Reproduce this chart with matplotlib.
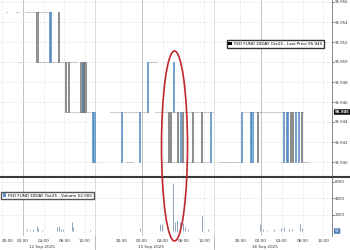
import matplotlib
matplotlib.use("Agg")
import matplotlib.pyplot as plt
import matplotlib.transforms as mtransforms
from matplotlib.patches import Ellipse, Patch
from matplotlib.lines import Line2D

# price levels (FED FUND 30DAY Oct25)
A, B, C, D = 95.955, 95.950, 95.945, 95.940

# candles: time, open, close
candle_times = [
    "09-12 02:44", "09-12 05:05", "09-12 05:20", "09-12 06:58", "09-12 08:15",
    "09-12 08:45", "09-12 11:15", "09-12 11:30", "09-12 11:45", "09-12 12:00",
    "09-12 13:30", "09-12 13:45",
    "09-14 20:06", "09-14 23:34", "09-15 01:07", "09-15 05:10", "09-15 05:30",
    "09-15 06:08", "09-15 06:54", "09-15 07:28", "09-15 07:52", "09-15 09:47",
    "09-15 11:31", "09-15 13:16",
    "09-15 20:14", "09-15 22:00", "09-15 22:15", "09-15 23:19", "09-16 04:19",
    "09-16 04:54", "09-16 05:10", "09-16 05:40", "09-16 06:03", "09-16 06:38",
    "09-16 07:13", "09-16 07:50",
]
candle_open = [
    A, B, B, A, B, B, B, C, B, B, D, D,
    D, D, C, C, C, C, C, D, C, C, C, D,
    D, D, D, C, D, D, D, C, C, D, D, C,
]
candle_close = [
    B, A, A, B, C, C, C, B, C, C, C, C,
    C, C, B, D, D, B, D, C, D, D, D, C,
    C, C, C, D, C, C, C, D, D, C, C, D,
]

# periods where the price stayed flat: start, end, level
flat_start = [
    "09-11 20:50", "09-11 22:40", "09-12 00:20", "09-11 23:20", "09-12 02:44",
    "09-12 08:15", "09-12 13:30", "09-14 15:30", "09-14 17:50", "09-14 21:00",
    "09-15 01:07", "09-15 02:30", "09-15 03:49", "09-15 15:50", "09-15 20:14",
    "09-16 03:50", "09-16 07:50",
]
flat_end = [
    "09-11 21:10", "09-11 23:20", "09-12 05:40", "09-11 23:35", "09-12 10:30",
    "09-12 13:30", "09-12 13:50", "09-14 15:45", "09-15 01:10", "09-14 22:15",
    "09-15 03:00", "09-15 13:40", "09-15 13:20", "09-15 20:14", "09-16 08:20",
    "09-16 04:30", "09-16 09:20",
]
flat_level = [A, A, A, B, B, C, D, D, C, D, B, C, D, D, C, D, D]

# volume bars
vol_times = [
    "09-12 00:48", "09-12 01:23", "09-12 01:58", "09-12 02:44", "09-12 02:55",
    "09-12 03:41", "09-12 06:35", "09-12 06:58", "09-12 07:21", "09-12 07:44",
    "09-12 09:28", "09-12 09:40", "09-12 12:56",
    "09-14 23:34", "09-15 03:26", "09-15 03:49", "09-15 05:56", "09-15 06:19",
    "09-15 06:42", "09-15 07:17", "09-15 07:52", "09-15 08:15", "09-15 08:49",
    "09-15 11:31", "09-15 12:41",
    "09-15 23:53", "09-16 00:28", "09-16 01:14", "09-16 02:35", "09-16 03:56",
    "09-16 04:31", "09-16 05:29", "09-16 06:03", "09-16 07:36", "09-16 07:59",
]
vol_values = [
    300, 200, 250, 700, 400, 200, 600, 700, 350, 300, 1100, 600, 200,
    450, 900, 850, 5850, 1100, 1400, 1200, 1000, 500, 350, 1900, 300,
    850, 300, 200, 250, 450, 500, 350, 300, 950, 400,
]

price_ticks = [95.940, 95.942, 95.944, 95.946, 95.948, 95.950, 95.952, 95.954, 95.956]
vol_ticks = [2000, 4000, 6000]
last_price = 95.945
last_volume = 52

tick_times = [
    "09-11 20:00", "09-12 00:00", "09-12 04:00", "09-12 08:00", "09-12 12:00",
    "09-14 20:00", "09-15 00:00", "09-15 04:00", "09-15 08:00", "09-15 12:00",
    "09-15 20:00", "09-16 00:00", "09-16 04:00", "09-16 08:00", "09-16 12:00",
]
date_labels = ["12 Sep 2025", "15 Sep 2025", "16 Sep 2025"]
date_label_times = ["09-12 03:40", "09-15 01:50", "09-16 00:40"]

session_of_day = {12: 0, 15: 1, 16: 2}


def to_x(ts):
    # trading hours only: each session runs 15:00 -> 14:00 (23h), weekend removed
    day, hm = ts.split()
    d = int(day.split("-")[1])
    h, m = map(int, hm.split(":"))
    hours = h + m / 60
    trade_day = d + 1 if hours >= 15 else d
    if trade_day in (13, 14):
        trade_day = 15
    return 23 * session_of_day[trade_day] + (hours - 15) % 24


W, H = 350, 250
right = 332  # right edge of the plot area in pixels
fig = plt.figure(figsize=(3.5, 2.5), dpi=100)
ax1 = fig.add_axes([0, 1 - 176 / H, right / W, 176 / H])
ax2 = fig.add_axes([0, 1 - 236 / H, right / W, 58 / H])

grid_c = "#d2d2d2"
for ax in (ax1, ax2):
    ax.set_xlim(4.6, 4.6 + right / 5.18)
    for t in tick_times:
        x = to_x(t)
        if t.endswith("00:00"):
            ax.axvline(x, color="#b8b8b8", lw=0.6, zorder=0)
        else:
            ax.axvline(x, color=grid_c, lw=0.5, ls=(0, (1, 1.5)), zorder=0)
    for x in (23, 46):
        ax.axvline(x, color="#d8d8d8", lw=0.6, zorder=0)
    ax.yaxis.tick_right()
    ax.grid(axis="y", color=grid_c, lw=0.5, ls=(0, (1, 1.5)))
    for s in ("top", "left", "bottom"):
        ax.spines[s].set_visible(False)
    ax.spines["right"].set_color("#777777")
    ax.spines["right"].set_linewidth(0.6)
    ax.tick_params(axis="y", length=1.5, width=0.5, pad=0.8, labelsize=2.8,
                   colors="#333333")
    ax.tick_params(axis="x", length=0)

# price panel
ax1.set_ylim(95.9386, 95.9562)
ax1.set_yticks(price_ticks)
ax1.set_yticklabels([f"{v:.3f}" for v in price_ticks])
ax1.set_xticks([])

flat_x0 = [to_x(t) for t in flat_start]
flat_x1 = [to_x(t) for t in flat_end]
ax1.hlines(flat_level, flat_x0, flat_x1, colors="#999999", lw=0.5,
           linestyles=(0, (2, 0.8)), zorder=2)

for t, o, c in zip(candle_times, candle_open, candle_close):
    up = c > o
    ax1.bar(to_x(t), abs(c - o), bottom=min(o, c), width=0.22,
            color="#7fb2e0" if up else "#9a9a9a",
            edgecolor="#3f78b5" if up else "#5e5e5e", lw=0.4, zorder=3)

tr1 = mtransforms.blended_transform_factory(ax1.transAxes, ax1.transData)
ax1.text(1.008, last_price, f"{last_price:.3f}", transform=tr1, fontsize=2.8,
         color="white", va="center", ha="left", fontweight="bold",
         bbox=dict(boxstyle="round,pad=0.2", fc="#111111", ec="none"))

ax1.legend([Patch(facecolor="black")], ["FED FUND 30DAY Oct25 - Last Price 95.945"],
           loc="center", bbox_to_anchor=(275 / W, 1 - 44 / H),
           bbox_transform=fig.transFigure, fontsize=3.0, frameon=True,
           fancybox=False, edgecolor="#333333", framealpha=1, borderpad=0.4,
           handlelength=0.8, handleheight=0.8, handletextpad=0.5,
           borderaxespad=0)

# volume panel
ax2.set_ylim(-550, 6480)
ax2.set_yticks(vol_ticks)
ax2.set_yticklabels([str(v) for v in vol_ticks])
ax2.vlines([to_x(t) for t in vol_times], 0, vol_values, color="#7d98b3", lw=0.6,
           zorder=3)
ax2.set_xticks([to_x(t) for t in tick_times])
ax2.set_xticklabels([t.split()[1] for t in tick_times])
ax2.tick_params(axis="x", labelsize=3.0, pad=2, colors="#333333")
ax2.get_xticklabels()[0].set_horizontalalignment("left")

tr2 = mtransforms.blended_transform_factory(ax2.transData, ax2.transAxes)
for lab, t in zip(date_labels, date_label_times):
    ax2.text(to_x(t), -0.15, lab, transform=tr2, fontsize=3.0, ha="center",
             va="top", color="#333333")

tr2y = mtransforms.blended_transform_factory(ax2.transAxes, ax2.transData)
ax2.text(1.008, last_volume, str(last_volume), transform=tr2y, fontsize=2.8,
         color="white", va="center", ha="left",
         bbox=dict(boxstyle="round,pad=0.2", fc="#4f7fb5", ec="none"))

ax2.legend([Patch(facecolor="#5b8fc7")], ["FED FUND 30DAY Oct25 - Volume 52.000"],
           loc="center left", bbox_to_anchor=(1 / W, 1 - 195.5 / H),
           bbox_transform=fig.transFigure, fontsize=3.0, frameon=True,
           fancybox=False, edgecolor="#555555", framealpha=1, borderpad=0.4,
           handlelength=0.8, handleheight=0.8, handletextpad=0.5,
           borderaxespad=0)

# panel separator and session separators in the label area
fig.add_artist(Line2D([0, 1], [1 - 177 / H, 1 - 177 / H], transform=fig.transFigure,
                      color="#3a3a3a", lw=1.5))
for x in (23, 46):
    xf = fig.transFigure.inverted().transform(ax2.transData.transform((x, 0)))[0]
    fig.add_artist(Line2D([xf, xf], [0, 1 - 236 / H], transform=fig.transFigure,
                          color="#b0b0b0", lw=0.6))

# red ellipse highlighting the spike
fig.add_artist(Ellipse((174.5 / W, 1 - 146 / H), 26 / W, 190 / H,
                       transform=fig.transFigure, fill=False,
                       edgecolor="#c0272d", lw=1.2, zorder=10))

fig.savefig("out.png", dpi=100)
